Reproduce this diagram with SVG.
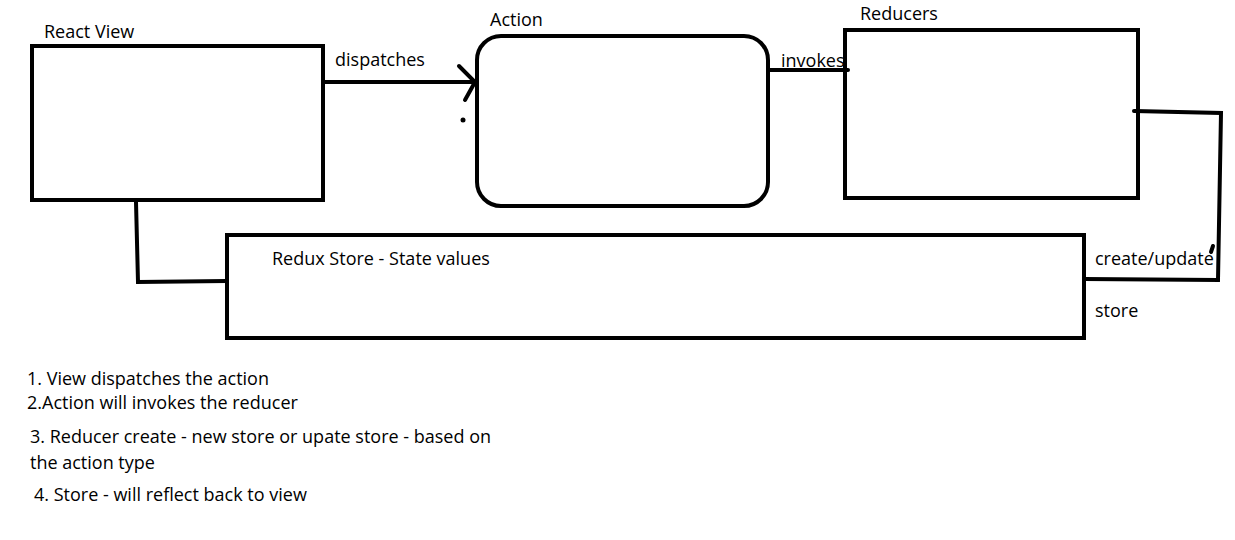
<svg xmlns="http://www.w3.org/2000/svg" width="1235" height="540" viewBox="0 0 1235 540">
<style>
.box{fill:none;stroke:#000;stroke-width:4}
.ln{fill:none;stroke:#000;stroke-width:4;stroke-linecap:round;stroke-linejoin:miter}
text{font-family:"Open Sans","Liberation Sans",sans-serif;font-size:18px;fill:#000}
</style>
<rect width="1235" height="540" fill="#fff"/>
<g id="react-view">
<rect class="box" x="32" y="46" width="291" height="154"/>
<text x="44" y="38">React View</text>
</g>
<g id="action">
<rect class="box" x="477" y="36" width="291" height="170" rx="24"/>
<text x="490" y="26">Action</text>
</g>
<g id="reducers">
<rect class="box" x="845" y="30" width="293" height="168"/>
<text x="860" y="20">Reducers</text>
</g>
<g id="redux-store">
<rect class="box" x="227" y="235" width="857" height="103"/>
<text x="272" y="265">Redux Store - State values</text>
</g>
<g id="connectors">
<path class="ln" d="M323 82 H475"/>
<path class="ln" d="M459 66 L475 82 L465 100"/>
<circle cx="463" cy="120" r="2.5" fill="#000"/>
<text x="335" y="66">dispatches</text>
<path class="ln" d="M768 70 H848"/>
<text x="781" y="67">invokes</text>
<path class="ln" d="M1134 111 L1221 113 L1218 280 L1084 279"/>
<path class="ln" d="M1211 252 L1213 246"/>
<text x="1095" y="265">create/update</text>
<text x="1095" y="317">store</text>
<path class="ln" d="M136 202 L138 282 L227 281"/>
</g>
<g id="notes">
<text x="27" y="385">1. View dispatches the action</text>
<text x="27" y="409">2.Action will invokes the reducer</text>
<text x="30" y="443">3. Reducer create - new store or upate store - based on</text>
<text x="30" y="469">the action type</text>
<text x="34" y="501">4. Store - will reflect back to view</text>
</g>
</svg>
